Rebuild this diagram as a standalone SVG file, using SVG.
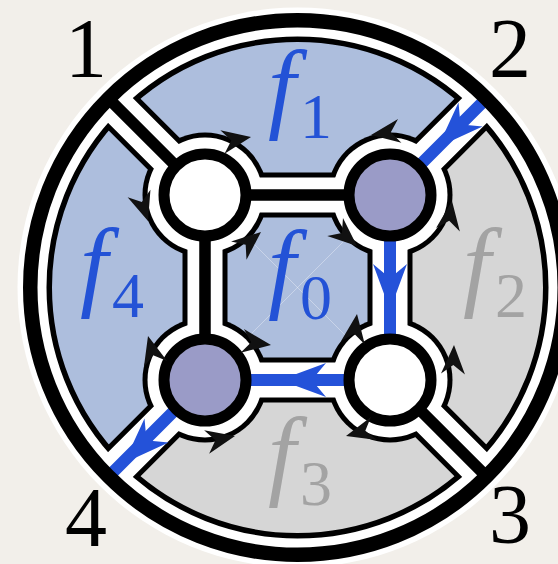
<svg xmlns="http://www.w3.org/2000/svg" width="558" height="564" viewBox="0 0 558 564">
<defs>
<style>
.ol{stroke:#000;stroke-width:45;fill:none}
.wh{stroke:#fff;stroke-width:35;fill:none}
.ce{stroke:#000;stroke-width:11.5;fill:none}
.bl{stroke:#2452d9;stroke-width:12;fill:none}
.node{stroke:#000;stroke-width:11}
.ar{fill:#111}
.ba{fill:#2452d9}
.lab{font-family:"Liberation Serif",serif;font-size:84px;fill:#000}
.fi{font-family:"Liberation Serif",serif;font-style:italic;font-size:100px}
.sub{font-family:"Liberation Serif",serif;font-size:64px}
.blue{fill:#2352d6}
.gray{fill:#a3a3a3}
</style>
<path id="ah" d="M0,0 L-29,-12 L-20,0 L-29,12 Z"/>
<path id="bh" d="M0,0 L-46,-17 L-36,-5 L-36,5 L-46,17 Z"/>
</defs>
<rect width="558" height="564" fill="#f2efea"/>
<circle cx="297.5" cy="287.5" r="280" fill="#fff"/>
<g id="faces">
<circle cx="297.5" cy="287.5" r="255" fill="#adbedd"/>
<path id="f2" d="M390,195 L488.4,96.6 A270 270 0 0 1 488.4,478.4 L390,380 Z" fill="#d6d6d6"/>
<path id="f3" d="M390,380 L488.4,478.4 A270 270 0 0 1 106.6,478.4 L205,380 Z" fill="#d6d6d6"/>
<g stroke="#fff" stroke-opacity="0.35" stroke-width="1">
<line x1="205" y1="195" x2="390" y2="380"/>
<line x1="390" y1="195" x2="205" y2="380"/>
</g>
</g>
<g id="connectors">
<g class="ol">
<path d="M205,195 H390 V380 H205 Z"/>
<path d="M205,195 L110.1,100.1 M390,195 L484.9,100.1 M390,380 L484.9,474.9 M205,380 L110.1,474.9"/>
<circle cx="297.5" cy="287.5" r="260" style="stroke-width:29"/>
</g>
<g fill="#000">
<circle cx="205" cy="195" r="62.5"/><circle cx="390" cy="195" r="62.5"/>
<circle cx="205" cy="380" r="62.5"/><circle cx="390" cy="380" r="62.5"/>
</g>
<g class="wh">
<path d="M205,195 H390 V380 H205 Z"/>
<path d="M205,195 L110.1,100.1 M390,195 L484.9,100.1 M390,380 L484.9,474.9 M205,380 L110.1,474.9"/>
<circle cx="297.5" cy="287.5" r="265" style="stroke-width:28"/>
</g>
<g fill="#fff">
<circle cx="205" cy="195" r="57.5"/><circle cx="390" cy="195" r="57.5"/>
<circle cx="205" cy="380" r="57.5"/><circle cx="390" cy="380" r="57.5"/>
</g>
<path class="ce" d="M390,195 H205 V380 M205,195 L110.1,100.1 M390,380 L484.9,474.9"/>
<path class="bl" d="M484.9,100.1 L390,195 V380 H205 L110.1,474.9"/>
<circle cx="297.5" cy="287.5" r="267.25" fill="none" stroke="#000" stroke-width="14.5"/>
<use href="#bh" class="ba" transform="translate(438,147) rotate(135)"/>
<use href="#bh" class="ba" transform="translate(390,310) rotate(90)"/>
<use href="#bh" class="ba" transform="translate(280,380) rotate(180)"/>
<use href="#bh" class="ba" transform="translate(124,463) rotate(135)"/>
</g>
<g id="node-tl">
<circle class="node" cx="205" cy="195" r="41" fill="#fff"/>
<use href="#ah" class="ar" transform="translate(251,137) rotate(-10)"/>
<use href="#ah" class="ar" transform="translate(148,221) rotate(72)"/>
<use href="#ah" class="ar" transform="translate(261,232) rotate(-40)"/>
</g>
<g id="node-tr">
<circle class="node" cx="390" cy="195" r="41" fill="#9a9bc7"/>
<use href="#ah" class="ar" transform="translate(371,135) rotate(172)"/>
<use href="#ah" class="ar" transform="translate(357,246) rotate(41)"/>
<use href="#ah" class="ar" transform="translate(452,201) rotate(-82)"/>
</g>
<g id="node-bl">
<circle class="node" cx="205" cy="380" r="41" fill="#9a9bc7"/>
<use href="#ah" class="ar" transform="translate(148,336) rotate(-105)"/>
<use href="#ah" class="ar" transform="translate(271,345) rotate(8)"/>
<use href="#ah" class="ar" transform="translate(235,436) rotate(-12)"/>
</g>
<g id="node-br">
<circle class="node" cx="390" cy="380" r="41" fill="#fff"/>
<use href="#ah" class="ar" transform="translate(357,314) rotate(-82)"/>
<use href="#ah" class="ar" transform="translate(454,345) rotate(-88)"/>
<use href="#ah" class="ar" transform="translate(346,436) rotate(165)"/>
</g>
<g id="labels">
<text class="lab" x="86" y="77" text-anchor="middle">1</text>
<text class="lab" x="510" y="77" text-anchor="middle">2</text>
<text class="lab" x="510" y="543" text-anchor="middle">3</text>
<text class="lab" x="86" y="546" text-anchor="middle">4</text>
<text class="fi blue" x="268" y="120">f</text><text class="sub blue" x="300" y="138">1</text>
<text class="fi blue" x="268" y="300">f</text><text class="sub blue" x="300" y="319">0</text>
<text class="fi blue" x="80" y="298">f</text><text class="sub blue" x="112" y="317">4</text>
<text class="fi gray" x="463" y="298">f</text><text class="sub gray" x="495" y="317">2</text>
<text class="fi gray" x="268" y="487">f</text><text class="sub gray" x="300" y="505">3</text>
</g>
</svg>
